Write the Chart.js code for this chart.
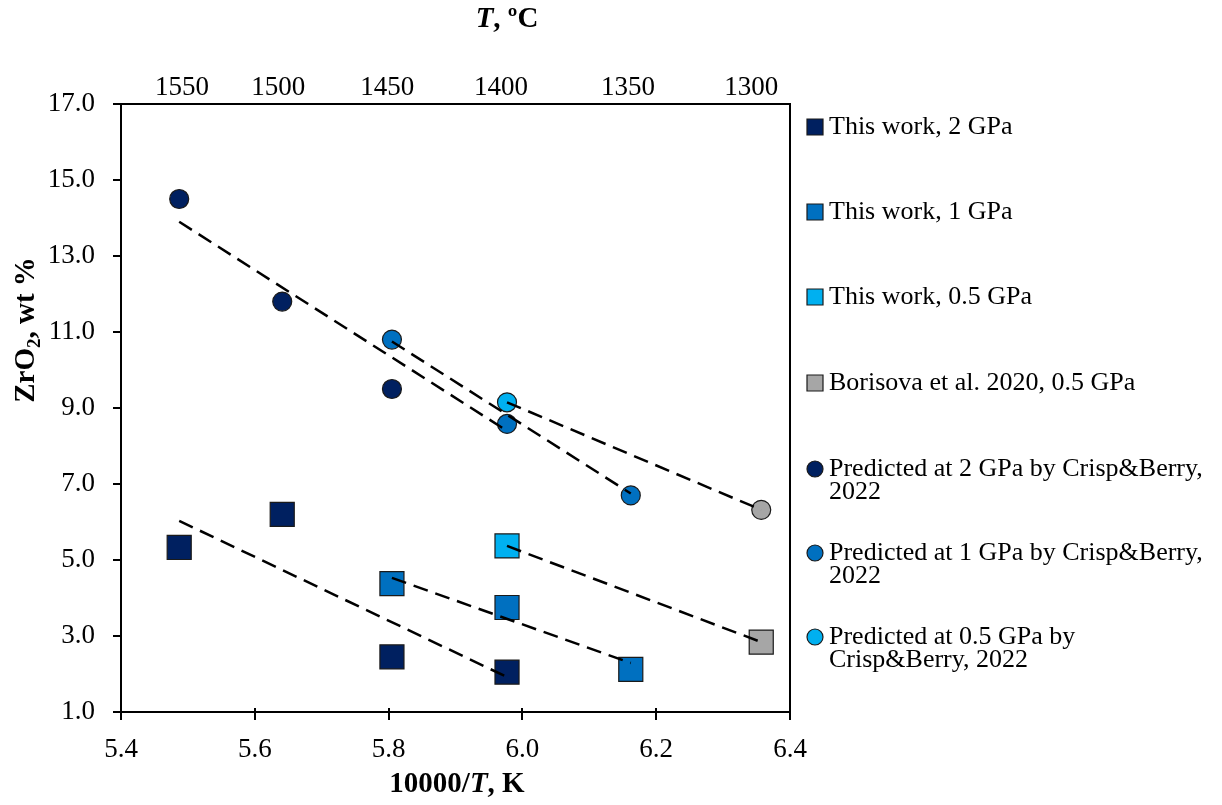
<!DOCTYPE html>
<html>
<head>
<meta charset="utf-8">
<script src="https://cdn.jsdelivr.net/npm/chart.js@4"></script>
<style>
  html, body { margin: 0; padding: 0; background: #fff; }
  #wrap { width: 1222px; height: 805px; position: relative; }
</style>
</head>
<body>
<div id="wrap"><canvas id="zrChart" width="1222" height="805"></canvas></div>
<script>
// 10000/T, K values and ZrO2 wt%
const tw2X = [5.487, 5.641, 5.805, 5.977];
const tw2Y = [5.33, 6.20, 2.45, 2.05];
const tw1X = [5.805, 5.977, 6.162];
const tw1Y = [4.38, 3.75, 2.12];
const tw05X = [5.977];
const tw05Y = [5.37];
const borX = [6.357];
const borY = [2.84];

const pr2X = [5.487, 5.641, 5.805];
const pr2Y = [14.5, 11.8, 9.5];
const pr1X = [5.805, 5.977, 6.162];
const pr1Y = [10.8, 8.58, 6.70];
const pr05X = [5.977];
const pr05Y = [9.15];
const prBorX = [6.357];
const prBorY = [6.32];

// dashed trend lines, start and end points
const trendPr2 = [[5.487, 13.9], [5.977, 8.4]];
const trendPr1 = [[5.805, 10.75], [6.162, 6.75]];
const trendPr05 = [[5.977, 9.15], [6.357, 6.32]];
const trendTw2 = [[5.487, 6.03], [5.977, 1.92]];
const trendTw1 = [[5.805, 4.53], [6.162, 2.29]];
const trendTw05 = [[5.977, 5.37], [6.357, 2.84]];

// axes
const xTicks = [5.4, 5.6, 5.8, 6.0, 6.2, 6.4];
const yTicks = [1, 3, 5, 7, 9, 11, 13, 15, 17];
const topLabels = ["1550", "1500", "1450", "1400", "1350", "1300"];
const topTickPos = [5.491, 5.635, 5.798, 5.968, 6.158, 6.342];

const NAVY = "#002060";
const MID = "#0070C0";
const LIGHT = "#00B0F0";
const GREY = "#A6A6A6";
const FONT = "'Liberation Serif', 'Times New Roman', serif";

const legendItems = [
  { text: ["This work, 2 GPa"], color: NAVY, shape: "rect", y: 127 },
  { text: ["This work, 1 GPa"], color: MID, shape: "rect", y: 212 },
  { text: ["This work, 0.5 GPa"], color: LIGHT, shape: "rect", y: 297 },
  { text: ["Borisova et al. 2020, 0.5 GPa"], color: GREY, shape: "rect", y: 383 },
  { text: ["Predicted at 2 GPa by Crisp&Berry,", "2022"], color: NAVY, shape: "circle", y: 469 },
  { text: ["Predicted at 1 GPa by Crisp&Berry,", "2022"], color: MID, shape: "circle", y: 553 },
  { text: ["Predicted at 0.5 GPa by", "Crisp&Berry, 2022"], color: LIGHT, shape: "circle", y: 637 }
];

function pts(xs, ys) {
  return xs.map((x, i) => ({ x: x, y: ys[i] }));
}

function trend(seg) {
  return {
    type: "line",
    data: seg.map(p => ({ x: p[0], y: p[1] })),
    borderColor: "#000",
    borderWidth: 2.5,
    borderDash: [15, 8],
    pointRadius: 0,
    showLine: true,
    fill: false
  };
}

function marker(xs, ys, color, shape) {
  return {
    data: pts(xs, ys),
    backgroundColor: color,
    borderColor: "#1a1a1a",
    borderWidth: 1.2,
    pointStyle: shape,
    pointRadius: shape === "rect" ? 17 : 9.5,
    pointHoverRadius: shape === "rect" ? 17 : 9.5
  };
}

function drawRuns(ctx, runs, cx, cy) {
  let total = 0;
  runs.forEach(r => { ctx.font = r.font; total += ctx.measureText(r.t).width; });
  let x = cx - total / 2;
  runs.forEach(r => {
    ctx.font = r.font;
    ctx.fillText(r.t, x, cy + (r.dy || 0));
    x += ctx.measureText(r.t).width;
  });
}

const decorPlugin = {
  id: "decor",
  afterDraw(chart) {
    const ctx = chart.ctx;
    const a = chart.chartArea;
    ctx.save();
    ctx.strokeStyle = "#000";
    ctx.lineWidth = 2;
    // right border of plot box
    ctx.beginPath();
    ctx.moveTo(a.right, a.top);
    ctx.lineTo(a.right, a.bottom);
    ctx.stroke();
    // x ticks poke a little above the axis line too
    const xs = chart.scales.x;
    ctx.beginPath();
    xTicks.forEach(v => {
      const px = Math.round(xs.getPixelForValue(v));
      ctx.moveTo(px, a.bottom - 4);
      ctx.lineTo(px, a.bottom);
    });
    ctx.stroke();

    ctx.fillStyle = "#000";
    ctx.textBaseline = "middle";
    ctx.textAlign = "left";
    // axis titles
    drawRuns(ctx, [
      { t: "10000/", font: "bold 29px " + FONT },
      { t: "T", font: "italic bold 29px " + FONT },
      { t: ", K", font: "bold 29px " + FONT }
    ], 457, 785);
    drawRuns(ctx, [
      { t: "T", font: "italic bold 29px " + FONT },
      { t: ", ºC", font: "bold 29px " + FONT }
    ], 507, 20);
    ctx.save();
    ctx.translate(27, 330);
    ctx.rotate(-Math.PI / 2);
    drawRuns(ctx, [
      { t: "ZrO", font: "bold 29px " + FONT },
      { t: "2", font: "bold 19px " + FONT, dy: 8 },
      { t: ", wt %", font: "bold 29px " + FONT }
    ], 0, 0);
    ctx.restore();

    // legend
    legendItems.forEach(it => {
      ctx.fillStyle = it.color;
      ctx.strokeStyle = "#1a1a1a";
      ctx.lineWidth = 1.2;
      const mx = 815, my = it.y;
      ctx.beginPath();
      if (it.shape === "rect") {
        ctx.rect(mx - 8, my - 8, 16, 16);
      } else {
        ctx.arc(mx, my, 8, 0, Math.PI * 2);
      }
      ctx.fill();
      ctx.stroke();
      ctx.fillStyle = "#000";
      ctx.font = "26px " + FONT;
      it.text.forEach((line, i) => {
        ctx.fillText(line, 829, my + i * 23.5);
      });
    });
    ctx.restore();
  }
};

const tickFont = { family: FONT, size: 27 };

new Chart(document.getElementById("zrChart").getContext("2d"), {
  type: "scatter",
  data: {
    datasets: [
      trend(trendPr2),
      trend(trendPr1),
      trend(trendPr05),
      trend(trendTw2),
      trend(trendTw1),
      trend(trendTw05),
      marker(pr05X, pr05Y, LIGHT, "circle"),
      marker(pr1X, pr1Y, MID, "circle"),
      marker(pr2X, pr2Y, NAVY, "circle"),
      marker(prBorX, prBorY, GREY, "circle"),
      marker(tw05X, tw05Y, LIGHT, "rect"),
      marker(tw1X, tw1Y, MID, "rect"),
      marker(tw2X, tw2Y, NAVY, "rect"),
      marker(borX, borY, GREY, "rect")
    ]
  },
  options: {
    responsive: false,
    animation: false,
    layout: { padding: { left: 0, right: 432, top: 0, bottom: 0 } },
    plugins: {
      legend: { display: false },
      tooltip: { enabled: false }
    },
    scales: {
      x: {
        type: "linear",
        position: "bottom",
        min: 5.4,
        max: 6.4,
        afterBuildTicks: s => { s.ticks = xTicks.map(v => ({ value: v })); },
        afterFit: s => { s.height = 93; },
        ticks: {
          color: "#000",
          font: tickFont,
          padding: 14,
          maxRotation: 0,
          callback: v => Number(v).toFixed(1)
        },
        grid: { drawOnChartArea: false, tickLength: 8, color: "#000", lineWidth: 2 },
        border: { color: "#000", width: 2 }
      },
      x2: {
        type: "linear",
        position: "top",
        min: 5.4,
        max: 6.4,
        afterBuildTicks: s => { s.ticks = topTickPos.map(v => ({ value: v })); },
        afterFit: s => { s.height = 104; },
        ticks: {
          color: "#000",
          font: tickFont,
          padding: 0,
          maxRotation: 0,
          autoSkip: false,
          callback: (v, i) => topLabels[i]
        },
        grid: { display: false, drawTicks: false },
        border: { color: "#000", width: 2 }
      },
      y: {
        type: "linear",
        min: 1,
        max: 17,
        afterBuildTicks: s => { s.ticks = yTicks.map(v => ({ value: v })); },
        afterFit: s => { s.width = 121; },
        ticks: {
          color: "#000",
          font: tickFont,
          padding: 18,
          callback: v => Number(v).toFixed(1)
        },
        grid: { drawOnChartArea: false, tickLength: 8, color: "#000", lineWidth: 2 },
        border: { color: "#000", width: 2 }
      }
    }
  },
  plugins: [decorPlugin]
});
</script>
</body>
</html>
